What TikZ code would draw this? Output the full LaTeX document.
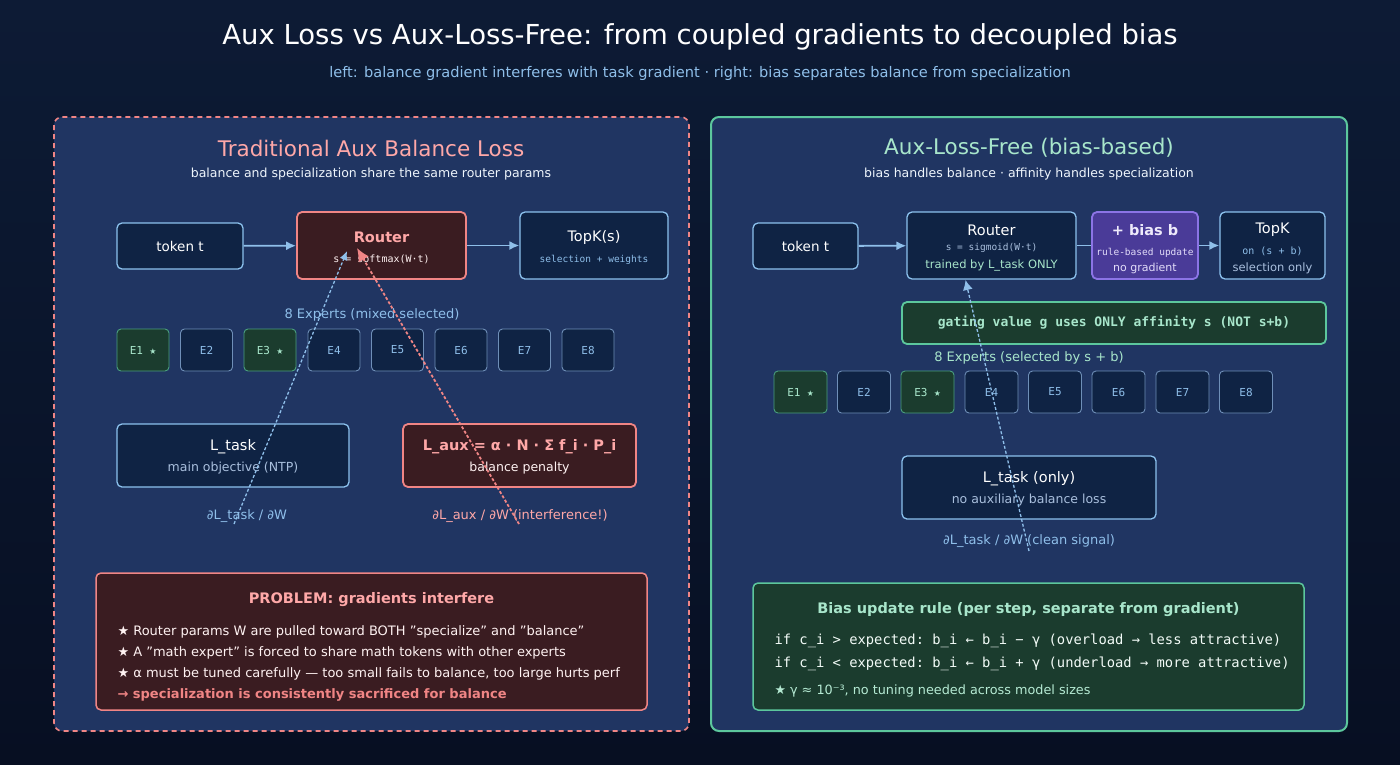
\documentclass[tikz,border=0pt]{standalone}
\usepackage{fontspec}
\setmainfont{DejaVu Sans}
\setmonofont{DejaVu Sans Mono}
\usetikzlibrary{positioning,arrows.meta}

\definecolor{bgtop}{HTML}{0D1B35}
\definecolor{bgbot}{HTML}{070F22}
\definecolor{panel}{HTML}{203562}
\definecolor{boxfill}{HTML}{0F2344}
\definecolor{boxline}{HTML}{8CC2EE}
\definecolor{redfill}{HTML}{3A1C21}
\definecolor{redline}{HTML}{F08585}
\definecolor{redtext}{HTML}{FFA8A8}
\definecolor{grnfill}{HTML}{1B3C2E}
\definecolor{grnline}{HTML}{5CC79D}
\definecolor{grntext}{HTML}{A8E6CB}
\definecolor{purfill}{HTML}{4A3B98}
\definecolor{purline}{HTML}{8C74E6}
\definecolor{labblue}{HTML}{8FBFEA}
\definecolor{subgrey}{HTML}{A9BFDD}
\definecolor{exline}{HTML}{6F8FB8}

\newcommand{\fsz}[1]{\fontsize{#1}{#1}\selectfont}
\newcommand{\dq}{\symbol{34}}

\tikzset{
  box/.style={draw=boxline, fill=boxfill, rounded corners=5pt, line width=1.3pt, align=center, text=white, inner sep=0pt},
  redbox/.style={box, draw=redline, fill=redfill, line width=1.8pt},
  expert/.style={draw=exline, fill=boxfill, rounded corners=4pt, line width=0.9pt, minimum width=52pt, minimum height=42pt, text=labblue, font=\ttfamily\fsz{11}, inner sep=0pt},
  sel/.style={expert, draw=grnline!80!black, fill=grnfill, text=grntext},
  flow/.style={-{Latex[length=10pt,width=9pt]}, draw=labblue, line width=1.8pt},
  grad/.style={densely dashed, line width=1.3pt},
  mono/.style={font=\ttfamily\fsz{10}, text=subgrey},
}

\begin{document}
\begin{tikzpicture}[x=1pt,y=-1pt]
  % background
  \shade[top color=bgtop, bottom color=bgbot] (0,0) rectangle (1400,764);
  \useasboundingbox (0,0) rectangle (1400,764);

  % titles
  \node[text=white, font=\fsz{27.5}] (title) at (700,37) {Aux Loss vs Aux-Loss-Free: from coupled gradients to decoupled bias};
  \node[text=labblue, font=\fsz{14.6}] (subtitle) at (700,73) {left: balance gradient interferes with task gradient · right: bias separates balance from specialization};

  % panels
  \draw[fill=panel, draw=redline, dash pattern=on 5pt off 4pt, line width=1.6pt, rounded corners=8pt] (54,117) rectangle (689,731);
  \draw[fill=panel, draw=grnline, line width=2pt, rounded corners=8pt] (711,117) rectangle (1347,731);

  % ---------- left panel ----------
  \node[text=redtext, font=\fsz{21.5}] (ltitle) at (371,148) {Traditional Aux Balance Loss};
  \node[text=white!85!labblue, font=\fsz{12.5}] (lsub) at (371,174) {balance and specialization share the same router params};

  \node[box, minimum width=126pt, minimum height=46pt, font=\fsz{13.5}] (ltoken) at (180,246) {token t};
  \node[redbox, minimum width=169pt, minimum height=67pt] (lrouter) at (381.5,245.5) {};
  \node[text=redtext, font=\bfseries\fsz{14.5}] at (381.5,237) {Router};
  \node[mono, text=white!85!redtext] at (381.5,259) {s = softmax(W·t)};
  \node[box, minimum width=148pt, minimum height=67pt] (ltopk) at (594,245.5) {};
  \node[font=\fsz{14.5}, text=white] at (594,237) {TopK(s)};
  \node[mono, font=\ttfamily\fsz{9.5}, text=labblue] at (594,260) {selection + weights};
  \draw[flow] (ltoken) -- (lrouter);
  \draw[flow] (lrouter) -- (ltopk);

  \node[text=labblue, font=\fsz{13}] (lexlab) at (372,315) {8 Experts (mixed selected)};
  \foreach \i/\x in {1/143,2/206.5,3/270,4/334,5/397.5,6/461,7/524.5,8/588}{
    \ifnum\i=1 \node[sel] (le\i) at (\x,350) {E\i\ ★};
    \else\ifnum\i=3 \node[sel] (le\i) at (\x,350) {E\i\ ★};
    \else \node[expert] (le\i) at (\x,350) {E\i};
    \fi\fi
  }

  \node[box, minimum width=232pt, minimum height=63pt] (ltask) at (233,455.5) {};
  \node[font=\fsz{14.5}, text=white] at (233,447) {L\_task};
  \node[font=\fsz{12.5}, text=subgrey] at (233,468) {main objective (NTP)};
  \node[redbox, minimum width=233pt, minimum height=63pt] (laux) at (519.5,455.5) {};
  \node[font=\bfseries\fsz{14.5}, text=redtext] at (519.5,447) {L\_aux = α · N · Σ f\_i · P\_i};
  \node[font=\fsz{12.5}, text=white!85!redtext] at (519.5,468) {balance penalty};

  \node[text=labblue, font=\fsz{13}] (ldtask) at (247,516) {∂L\_task / ∂W};
  \node[text=redtext, font=\fsz{13}] (ldaux) at (520,516) {∂L\_aux / ∂W (interference!)};

  \coordinate (ltaskfoot) at (234,524);
  \coordinate (lauxfoot) at (519,524);
  \coordinate (ltaskhit) at (347,251);
  \coordinate (lauxhit) at (357,248);
  \draw[grad, draw=labblue, -{Latex[length=9pt,width=8pt]}] (ltaskfoot) -- (ltaskhit);
  \draw[grad, draw=redline, line width=1.8pt, -{Latex[length=13pt,width=12pt]}] (lauxfoot) -- (lauxhit);

  \node[redbox, line width=1.5pt, minimum width=551pt, minimum height=137pt] (problem) at (371.5,641.5) {};
  \node[font=\bfseries\fsz{14.5}, text=redtext] at (371.5,600) {PROBLEM: gradients interfere};
  \begin{scope}[every node/.style={anchor=west, font=\fsz{13}, text=white!85!redtext}]
    \node at (114,632) {★ Router params W are pulled toward BOTH \dq specialize\dq\ and \dq balance\dq};
    \node at (114,653) {★ A \dq math expert\dq\ is forced to share math tokens with other experts};
    \node at (114,674) {★ α must be tuned carefully — too small fails to balance, too large hurts perf};
    \node[font=\bfseries\fsz{13}, text=redline] at (114,695) {→ specialization is consistently sacrificed for balance};
  \end{scope}

  % ---------- right panel ----------
  \node[text=grntext, font=\fsz{21.5}] (rtitle) at (1029,148) {Aux-Loss-Free (bias-based)};
  \node[text=white!85!labblue, font=\fsz{12.5}] (rsub) at (1029,174) {bias handles balance · affinity handles specialization};

  \node[box, minimum width=105pt, minimum height=46pt, font=\fsz{13.5}] (rtoken) at (805.5,246) {token t};
  \node[box, minimum width=169pt, minimum height=67pt] (rrouter) at (991.5,245.5) {};
  \node[font=\fsz{14.5}, text=white] at (991.5,230) {Router};
  \node[mono, font=\ttfamily\fsz{9.5}] at (991.5,248) {s = sigmoid(W·t)};
  \node[font=\fsz{11.5}, text=grntext] at (991.5,265) {trained by L\_task ONLY};
  \node[box, draw=purline, fill=purfill, line width=1.8pt, minimum width=106pt, minimum height=67pt] (rbias) at (1145,245.5) {};
  \node[font=\bfseries\fsz{14.5}, text=white!85!purline] at (1145,230) {+ bias b};
  \node[mono, font=\ttfamily\fsz{9.5}, text=white!75!purline] at (1145,253) {rule-based update};
  \node[font=\fsz{11}, text=white!75!purline] at (1145,268) {no gradient};
  \node[box, minimum width=105pt, minimum height=67pt] (rtopk) at (1272.5,245.5) {};
  \node[font=\fsz{14.5}, text=white] at (1272.5,230) {TopK};
  \node[mono, font=\ttfamily\fsz{10}, text=labblue] at (1272.5,251) {on (s + b)};
  \node[font=\fsz{11.5}, text=subgrey] at (1272.5,268) {selection only};
  \draw[flow] (rtoken) -- (rrouter);
  \draw[draw=labblue, line width=1.8pt] (rrouter) -- (rbias);
  \draw[flow] (rbias) -- (rtopk);

  \node[box, draw=grnline, fill=grnfill, line width=1.8pt, minimum width=424pt, minimum height=42pt, font=\ttfamily\bfseries\fsz{13}, text=grntext] (gating) at (1114,323) {gating value g uses ONLY affinity s (NOT s+b)};

  \node[text=grntext, font=\fsz{13}] (rexlab) at (1029,358) {8 Experts (selected by s + b)};
  \foreach \i/\x in {1/800.5,2/864,3/927.5,4/991.5,5/1055,6/1118.5,7/1182.5,8/1246}{
    \ifnum\i=1 \node[sel, minimum width=53pt] (re\i) at (\x,392) {E\i\ ★};
    \else\ifnum\i=3 \node[sel, minimum width=53pt] (re\i) at (\x,392) {E\i\ ★};
    \else \node[expert, minimum width=53pt] (re\i) at (\x,392) {E\i};
    \fi\fi
  }

  \node[box, minimum width=254pt, minimum height=63pt] (rtask) at (1029,487.5) {};
  \node[font=\fsz{14.5}, text=white] at (1029,479) {L\_task (only)};
  \node[font=\fsz{12.5}, text=subgrey] at (1029,500) {no auxiliary balance loss};
  \node[text=labblue, font=\fsz{13}] (rdtask) at (1029,541) {∂L\_task / ∂W (clean signal)};

  \coordinate (rtaskfoot) at (1029,551);
  \coordinate (rtaskhit) at (965.5,280);
  \draw[grad, draw=labblue, -{Latex[length=10pt,width=10pt]}] (rtaskfoot) -- (rtaskhit);

  \node[box, draw=grnline, fill=grnfill, line width=1.5pt, minimum width=551pt, minimum height=127pt] (rule) at (1028.5,646.5) {};
  \node[font=\bfseries\fsz{14.5}, text=grntext] at (1028.5,610) {Bias update rule (per step, separate from gradient)};
  \begin{scope}[every node/.style={anchor=west, text=white!85!grntext}]
    \node[font=\ttfamily\fsz{13.8}] at (771,641) {if c\_i > expected: b\_i ← b\_i − γ (overload → less attractive)};
    \node[font=\ttfamily\fsz{13.8}] at (771,664) {if c\_i < expected: b\_i ← b\_i + γ (underload → more attractive)};
    \node[font=\fsz{12.8}, text=grntext!85!white] at (771,691) {★ γ ≈ 10⁻³, no tuning needed across model sizes};
  \end{scope}
\end{tikzpicture}
\end{document}
